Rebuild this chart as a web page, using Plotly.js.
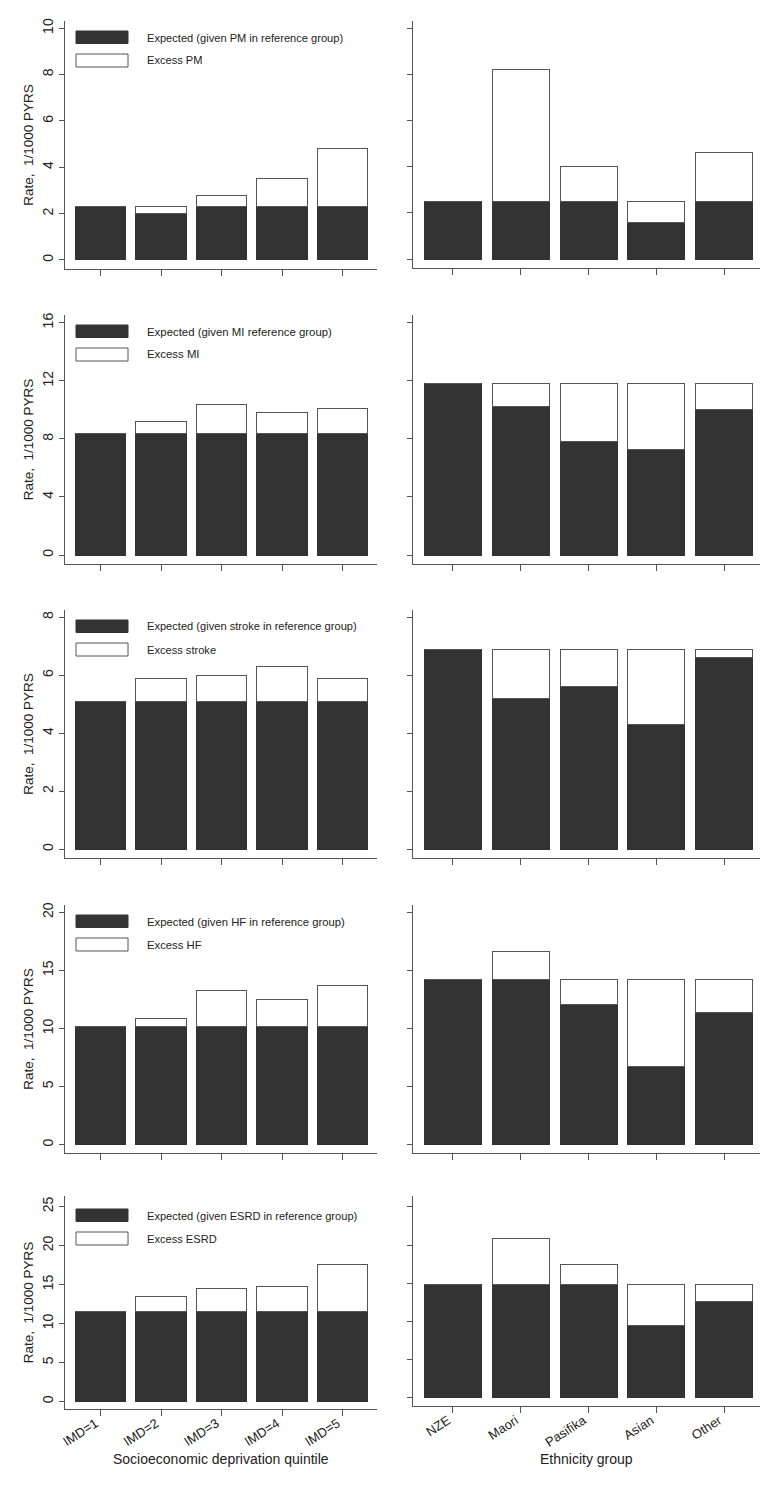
<!DOCTYPE html>
<html>
<head>
<meta charset="utf-8">
<script src="https://cdn.plot.ly/plotly-3.0.1.min.js"></script>
<style>body{margin:0;background:#fff}</style>
</head>
<body>
<div id="chart" style="width:780px;height:1487px"></div>
<script>
// categories
var imdLabels = ["IMD=1", "IMD=2", "IMD=3", "IMD=4", "IMD=5"];
var ethLabels = ["NZE", "Maori", "Pasifika", "Asian", "Other"];

// legend texts, one per row
var expectedNames = [
  "Expected (given PM in reference group)",
  "Expected (given MI reference group)",
  "Expected (given stroke in reference group)",
  "Expected (given HF in reference group)",
  "Expected (given ESRD in reference group)"
];
var excessNames = ["Excess PM", "Excess MI", "Excess stroke", "Excess HF", "Excess ESRD"];

// rates, 1/1000 PYRS : expected part and total bar height
var pmImdExpected = [2.3, 2.0, 2.3, 2.3, 2.3];
var pmImdTotal    = [2.3, 2.3, 2.8, 3.5, 4.8];
var pmEthExpected = [2.5, 2.5, 2.5, 1.6, 2.5];
var pmEthTotal    = [2.5, 8.2, 4.0, 2.5, 4.6];

var miImdExpected = [8.4, 8.4, 8.4, 8.4, 8.4];
var miImdTotal    = [8.4, 9.2, 10.4, 9.8, 10.1];
var miEthExpected = [11.8, 10.2, 7.8, 7.3, 10.0];
var miEthTotal    = [11.8, 11.8, 11.8, 11.8, 11.8];

var strokeImdExpected = [5.1, 5.1, 5.1, 5.1, 5.1];
var strokeImdTotal    = [5.1, 5.9, 6.0, 6.3, 5.9];
var strokeEthExpected = [6.9, 5.2, 5.6, 4.3, 6.6];
var strokeEthTotal    = [6.9, 6.9, 6.9, 6.9, 6.9];

var hfImdExpected = [10.2, 10.2, 10.2, 10.2, 10.2];
var hfImdTotal    = [10.2, 10.9, 13.3, 12.5, 13.7];
var hfEthExpected = [14.2, 14.2, 12.1, 6.7, 11.4];
var hfEthTotal    = [14.2, 16.6, 14.2, 14.2, 14.2];

var esrdImdExpected = [11.5, 11.5, 11.5, 11.5, 11.5];
var esrdImdTotal    = [11.5, 13.5, 14.5, 14.8, 17.6];
var esrdEthExpected = [14.8, 14.8, 14.8, 9.4, 12.6];
var esrdEthTotal    = [14.8, 20.8, 17.4, 14.8, 14.8];

var imdExpected = [pmImdExpected, miImdExpected, strokeImdExpected, hfImdExpected, esrdImdExpected];
var imdTotal    = [pmImdTotal, miImdTotal, strokeImdTotal, hfImdTotal, esrdImdTotal];
var ethExpected = [pmEthExpected, miEthExpected, strokeEthExpected, hfEthExpected, esrdEthExpected];
var ethTotal    = [pmEthTotal, miEthTotal, strokeEthTotal, hfEthTotal, esrdEthTotal];

// ---------------------------------------------------------------- layout helpers
var W = 780, H = 1487;
function px(x) { return x / W; }
function py(y) { return 1 - y / H; }

var rowTop      = [21, 315, 610, 905, 1196];
var rowBottomL  = [269, 564, 858, 1153, 1409];
var rowBottomR  = [268, 564, 858, 1153, 1406];
var yRangeL = [[-0.39, 10.31], [-0.62, 16.53], [-0.30, 8.25], [-0.72, 20.63], [-0.97, 26.37]];
var yRangeR = [[-0.39, 10.31], [-0.62, 16.53], [-0.30, 8.25], [-0.72, 20.63], [-1.14, 26.44]];
var yStep   = [2, 4, 2, 5, 5];
var legendDy = [0, 0, 0, 0, 3];
var legendSize = [11.1, 11.4, 11.1, 11.3, 11.1];

var DARK = "#333333";
var LINE = "#555555";
var FONT = "Liberation Sans, Arial, Helvetica, sans-serif";

function minus(a, b) { return a.map(function (v, i) { return +(v - b[i]).toFixed(2); }); }

var data = [];
var layout = {
  width: W, height: H,
  margin: {l: 0, r: 0, t: 0, b: 0},
  paper_bgcolor: "#fff", plot_bgcolor: "#fff",
  barmode: "stack",
  showlegend: false,
  font: {family: FONT, color: "#222", size: 13},
  shapes: [], annotations: []
};

function axisBase() {
  return {
    showgrid: false, zeroline: false, showline: true,
    linecolor: LINE, linewidth: 1,
    ticks: "outside", tickcolor: LINE, tickwidth: 1, fixedrange: true
  };
}

for (var r = 0; r < 5; r++) {
  var iL = 2 * r + 1, iR = 2 * r + 2;
  var last = (r === 4);
  var sides = [
    {i: iL, cats: imdLabels, exp: imdExpected[r], tot: imdTotal[r], dom: [65, 377], xr: [-0.587, 4.57],
     bottom: rowBottomL[r], yr: yRangeL[r], title: "Socioeconomic deprivation quintile"},
    {i: iR, cats: ethLabels, exp: ethExpected[r], tot: ethTotal[r], dom: [413, 760], xr: [-0.59, 4.53],
     bottom: rowBottomR[r], yr: yRangeR[r], title: "Ethnicity group"}
  ];
  sides.forEach(function (s, k) {
    var xa = "x" + s.i, ya = "y" + s.i;
    data.push({
      type: "bar", x: s.cats, y: s.exp, xaxis: xa, yaxis: ya, width: 0.84,
      name: expectedNames[r], hoverinfo: "x+y+name",
      marker: {color: DARK, line: {color: DARK, width: 1}}
    });
    data.push({
      type: "bar", x: s.cats, y: minus(s.tot, s.exp), xaxis: xa, yaxis: ya, width: 0.84,
      name: excessNames[r], hoverinfo: "x+y+name",
      marker: {color: "#ffffff", line: {color: LINE, width: 1}}
    });

    var x = axisBase();
    x.domain = [px(s.dom[0]), px(s.dom[1])];
    x.range = s.xr;
    x.anchor = ya;
    x.type = "category";
    x.ticklen = 6;
    x.showticklabels = last;
    if (last) {
      x.tickangle = -33;
      x.ticklabelshift = -5;
      x.ticklabelstandoff = -5;
      x.tickfont = {size: 13, color: "#222"};
      // axis title as annotation so it sits close to the slanted labels
      layout.annotations.push({xref: "paper", yref: "paper",
        x: px((s.dom[0] + s.dom[1]) / 2), y: py(1459),
        xanchor: "center", yanchor: "middle", showarrow: false, text: s.title,
        font: {size: 14, color: "#222"}});
    }
    layout["xaxis" + s.i] = x;

    var y = axisBase();
    y.domain = [py(s.bottom), py(rowTop[r])];
    y.range = s.yr;
    y.anchor = xa;
    y.tick0 = 0;
    y.dtick = yStep[r];
    y.ticklen = 5;
    y.showticklabels = (k === 0);
    if (k === 0) {
      y.tickangle = -90;
      y.tickfont = {size: 14, color: "#222"};
      y.title = {text: "Rate,\u00a0 1/1000 PYRS", font: {size: 13.5, color: "#222"}, standoff: 3};
    }
    layout["yaxis" + s.i] = y;
  });

  // legend box inside the left panel
  var t = rowTop[r] + legendDy[r];
  layout.shapes.push({type: "rect", xref: "paper", yref: "paper",
    x0: px(76), x1: px(128), y0: py(t + 22.5), y1: py(t + 10),
    fillcolor: DARK, line: {color: DARK, width: 1}});
  layout.shapes.push({type: "rect", xref: "paper", yref: "paper",
    x0: px(76), x1: px(128), y0: py(t + 46), y1: py(t + 33),
    fillcolor: "#ffffff", line: {color: LINE, width: 1}});
  layout.annotations.push({xref: "paper", yref: "paper", x: px(145), y: py(t + 16.5),
    xanchor: "left", yanchor: "middle", showarrow: false, text: expectedNames[r],
    font: {size: legendSize[r], color: "#222"}});
  layout.annotations.push({xref: "paper", yref: "paper", x: px(145), y: py(t + 39.5),
    xanchor: "left", yanchor: "middle", showarrow: false, text: excessNames[r],
    font: {size: legendSize[r], color: "#222"}});
}

Plotly.newPlot("chart", data, layout, {displayModeBar: false, staticPlot: true});
</script>
</body>
</html>
